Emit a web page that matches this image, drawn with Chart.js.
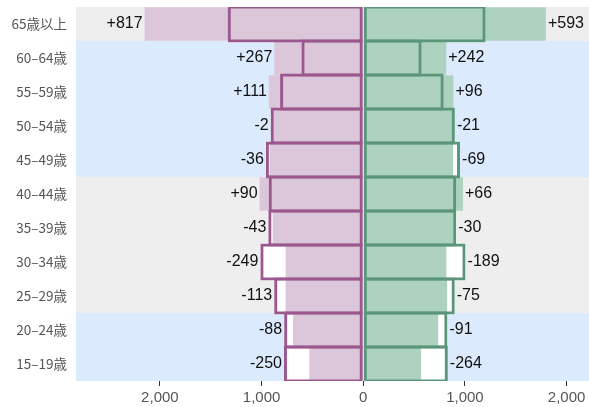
<!DOCTYPE html>
<html>
<head>
<meta charset="utf-8">
<script src="https://cdn.jsdelivr.net/npm/chart.js@4"></script>
<style>
  body { margin: 0; background: #fff; }
  #wrap { width: 589px; height: 407px; position: relative; }
</style>
</head>
<body>
<div id="wrap"><canvas id="myChart"></canvas></div>
<script>
// age groups, top to bottom
var ageGroups = ["65歳以上","60–64歳","55–59歳","50–54歳","45–49歳","40–44歳","35–39歳","30–34歳","25–29歳","20–24歳","15–19歳"];
// previous count (outlined bars) and current count (filled bars)
var malePrev   = [1333, 608, 818, 911, 958, 930, 934, 1012, 876, 778, 780];
var maleNow    = [2150, 875, 929, 909, 922, 1020, 891, 763, 763, 690, 530];
var femalePrev = [1203, 574, 791, 901, 952, 914, 914, 1006, 900, 828, 832];
var femaleNow  = [1796, 816, 887, 880, 883, 980, 884, 817, 825, 737, 568];
var xTicks = [-2000, -1000, 0, 1000, 2000];

// row band colours
var bandColors = ["#eeeeee","#dbeafc","#dbeafc","#dbeafc","#dbeafc","#eeeeee","#eeeeee","#eeeeee","#eeeeee","#dbeafc","#dbeafc"];

function neg(arr) { return arr.map(function (v) { return -v; }); }
function fmt(v) { return Math.abs(v).toString().replace(/\B(?=(\d{3})+(?!\d))/g, ","); }

var bandsPlugin = {
    id: "bands",
    beforeDatasetsDraw: function (chart) {
        var ctx = chart.ctx, area = chart.chartArea, y = chart.scales.y;
        var half = (area.bottom - area.top) / ageGroups.length / 2;
        ctx.save();
        for (var i = 0; i < ageGroups.length; i++) {
            var c = y.getPixelForValue(i);
            var top = Math.round(c - half), bot = Math.round(c + half);
            ctx.fillStyle = bandColors[i];
            ctx.fillRect(area.left, top, area.right - area.left, bot - top);
        }
        ctx.restore();
    }
};

var diffPlugin = {
    id: "diffs",
    afterDatasetsDraw: function (chart) {
        var ctx = chart.ctx, x = chart.scales.x, y = chart.scales.y;
        ctx.save();
        ctx.font = '16px "Liberation Sans", Arial, sans-serif';
        ctx.fillStyle = "#111";
        ctx.textBaseline = "middle";
        for (var i = 0; i < ageGroups.length; i++) {
            var cy = y.getPixelForValue(i);
            var dm = maleNow[i] - malePrev[i];
            var df = femaleNow[i] - femalePrev[i];
            ctx.textAlign = "right";
            ctx.fillText((dm > 0 ? "+" : "-") + Math.abs(dm),
                x.getPixelForValue(-Math.max(maleNow[i], malePrev[i])) - 2, cy);
            ctx.textAlign = "left";
            ctx.fillText((df > 0 ? "+" : "-") + Math.abs(df),
                x.getPixelForValue(Math.max(femaleNow[i], femalePrev[i])) + 2, cy);
        }
        ctx.restore();
    }
};

var ctx = document.getElementById("myChart").getContext("2d");
var myChart = new Chart(ctx, {
    type: "bar",
    data: {
        labels: ageGroups,
        datasets: [
            // outlines of previous count, drawn on top
            { data: neg(malePrev), backgroundColor: "rgba(0,0,0,0)", borderColor: "#9b588f", borderWidth: 3, borderSkipped: false, barPercentage: 1.09, categoryPercentage: 1, grouped: false, order: 1 },
            { data: femalePrev, backgroundColor: "rgba(0,0,0,0)", borderColor: "#5b957a", borderWidth: 3, borderSkipped: false, barPercentage: 1.09, categoryPercentage: 1, grouped: false, order: 1 },
            // current count
            { data: neg(maleNow), backgroundColor: "#dcc6da", borderWidth: 0, barPercentage: 0.98, categoryPercentage: 1, grouped: false, order: 2 },
            { data: femaleNow, backgroundColor: "#add3c0", borderWidth: 0, barPercentage: 0.98, categoryPercentage: 1, grouped: false, order: 2 },
            // white under previous count
            { data: neg(malePrev), backgroundColor: "#ffffff", borderWidth: 0, barPercentage: 1.09, categoryPercentage: 1, grouped: false, order: 3 },
            { data: femalePrev, backgroundColor: "#ffffff", borderWidth: 0, barPercentage: 1.09, categoryPercentage: 1, grouped: false, order: 3 }
        ]
    },
    options: {
        indexAxis: "y",
        responsive: true,
        maintainAspectRatio: false,
        animation: false,
        layout: { padding: { top: 7, right: 0, left: 0, bottom: 0 } },
        plugins: {
            legend: { display: false },
            tooltip: { enabled: false }
        },
        scales: {
            x: {
                min: -2825,
                max: 2220,
                afterBuildTicks: function (scale) {
                    scale.ticks = xTicks.map(function (v) { return { value: v }; });
                },
                afterFit: function (scale) { scale.height = 26; },
                grid: { drawOnChartArea: false, drawTicks: true, tickLength: 5, color: "#333" },
                border: { display: false },
                ticks: {
                    padding: 3,
                    color: "#555",
                    font: { family: '"Liberation Sans", Arial, sans-serif', size: 15 },
                    callback: function (v) { return fmt(v); }
                }
            },
            y: {
                afterFit: function (scale) {
                    scale.width = 76;
                    scale.paddingTop = 0;
                    scale.paddingBottom = 0;
                },
                grid: { display: false, drawTicks: false },
                border: { display: false },
                ticks: {
                    padding: 9,
                    color: "#555",
                    font: { family: '"Noto Sans CJK JP", "Noto Sans", sans-serif', size: 13.5 }
                }
            }
        }
    },
    plugins: [bandsPlugin, diffPlugin]
});
</script>
</body>
</html>
